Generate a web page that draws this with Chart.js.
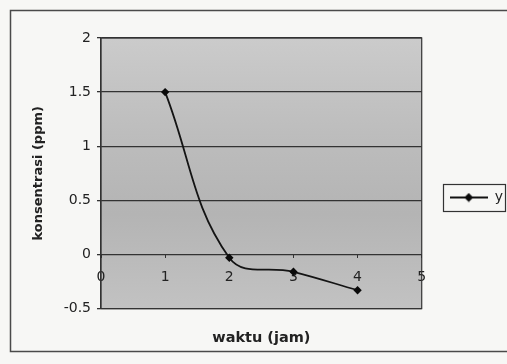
<!DOCTYPE html>
<html>
<head>
<meta charset="utf-8">
<script src="https://cdn.jsdelivr.net/npm/chart.js@4"></script>
<style>
  html, body { margin: 0; padding: 0; background: #f7f7f5; }
  #c { display: block; }
</style>
</head>
<body>
<canvas id="c" width="507" height="364"></canvas>
<script>
// ---- data ----
const seriesName = "y";
const xValues = [1, 2, 3, 4];
const yValues = [1.5, -0.03, -0.16, -0.33];
const xTicks = [0, 1, 2, 3, 4, 5];
const yTicks = [-0.5, 0, 0.5, 1, 1.5, 2];
const xTitle = "waktu (jam)";
const yTitle = "konsentrasi (ppm)";

// legend icon: line with diamond marker
const legendIcon = document.createElement('canvas');
legendIcon.width = 38; legendIcon.height = 10;
(function(){
  const g = legendIcon.getContext('2d');
  g.strokeStyle = '#111'; g.lineWidth = 1.8;
  g.beginPath(); g.moveTo(0, 5); g.lineTo(38, 5); g.stroke();
  g.fillStyle = '#0a0a0a';
  g.beginPath(); g.moveTo(19, 0.5); g.lineTo(23.5, 5); g.lineTo(19, 9.5); g.lineTo(14.5, 5); g.closePath(); g.fill();
})();

const decor = {
  id: 'decor',
  beforeDraw(chart) {
    const ctx = chart.ctx, a = chart.chartArea;
    ctx.save();
    // outer frame
    ctx.strokeStyle = '#4a4a4a'; ctx.lineWidth = 1.5;
    ctx.strokeRect(10.5, 10.5, 620, 341);
    // plot area background
    const gr = ctx.createLinearGradient(0, a.top, 0, a.bottom);
    gr.addColorStop(0, '#cbcbcb');
    gr.addColorStop(0.35, '#bdbdbd');
    gr.addColorStop(0.65, '#b4b4b4');
    gr.addColorStop(1, '#c2c2c2');
    ctx.fillStyle = gr;
    ctx.fillRect(a.left, a.top, a.right - a.left, a.bottom - a.top);
    ctx.restore();
  },
  beforeDatasetsDraw(chart) {
    const ctx = chart.ctx, a = chart.chartArea;
    ctx.save();
    ctx.strokeStyle = '#333'; ctx.lineWidth = 1.2;
    ctx.strokeRect(a.left, a.top, a.right - a.left, a.bottom - a.top);
    ctx.restore();
  },
  afterDraw(chart) {
    const hb = chart.legend && chart.legend.legendHitBoxes && chart.legend.legendHitBoxes[0];
    if (!hb) return;
    const ctx = chart.ctx;
    ctx.save();
    ctx.strokeStyle = '#333'; ctx.lineWidth = 1.2;
    ctx.strokeRect(Math.round(hb.left - 7) + 0.5, Math.round(hb.top - 7) + 0.5,
                   Math.round(hb.width + 9), Math.round(hb.height + 13));
    ctx.restore();
  }
};

new Chart(document.getElementById('c'), {
  type: 'line',
  data: {
    datasets: [{
      label: seriesName,
      data: xValues.map((x, i) => ({ x: x, y: yValues[i] })),
      borderColor: '#141414',
      borderWidth: 1.8,
      backgroundColor: '#0a0a0a',
      pointStyle: 'rectRot',
      pointRadius: 4.2,
      pointBorderWidth: 0,
      pointBackgroundColor: '#0a0a0a',
      tension: 0.4,
      fill: false
    }]
  },
  options: {
    responsive: false,
    animation: false,
    events: [],
    layout: { padding: { left: 0, top: 38, right: -6, bottom: 7 } },
    plugins: {
      tooltip: { enabled: false },
      legend: {
        position: 'right',
        labels: {
          usePointStyle: true,
          pointStyleWidth: 38,
          padding: 28,
          color: '#222',
          font: { family: 'DejaVu Sans', size: 14 },
          generateLabels(chart) {
            return Chart.defaults.plugins.legend.labels.generateLabels(chart)
              .map(l => Object.assign(l, { pointStyle: legendIcon }));
          }
        }
      },
      title: {
        display: true,
        position: 'bottom',
        fullSize: false,
        text: xTitle,
        color: '#222',
        font: { family: 'DejaVu Sans', size: 14.5, weight: 'bold' },
        padding: { top: 21, bottom: 10 }
      }
    },
    scales: {
      x: {
        type: 'linear',
        position: { y: 0 },
        min: xTicks[0],
        max: xTicks[xTicks.length - 1],
        afterBuildTicks(scale) { scale.ticks = xTicks.map(v => ({ value: v })); },
        grid: { drawOnChartArea: false, drawTicks: true, tickLength: 4, tickColor: '#333', lineWidth: 1 },
        border: { display: false },
        ticks: { padding: 10, color: '#222', font: { family: 'DejaVu Sans', size: 14 },
                 callback: v => String(v) }
      },
      y: {
        position: 'left',
        min: yTicks[0],
        max: yTicks[yTicks.length - 1],
        afterBuildTicks(scale) { scale.ticks = yTicks.map(v => ({ value: v })); },
        afterFit(scale) { scale.width = 101; },
        grid: { color: '#333', lineWidth: 1.3, drawTicks: true, tickLength: 4, tickColor: '#333' },
        border: { display: true, color: '#333', width: 1.2 },
        ticks: { padding: 6, color: '#222', font: { family: 'DejaVu Sans', size: 14 },
                 callback: v => String(v) },
        title: {
          display: true,
          text: yTitle,
          color: '#222',
          font: { family: 'DejaVu Sans', size: 13, weight: 'bold' },
          padding: { top: 31, bottom: 0 }
        }
      }
    }
  },
  plugins: [decor]
});
</script>
</body>
</html>
